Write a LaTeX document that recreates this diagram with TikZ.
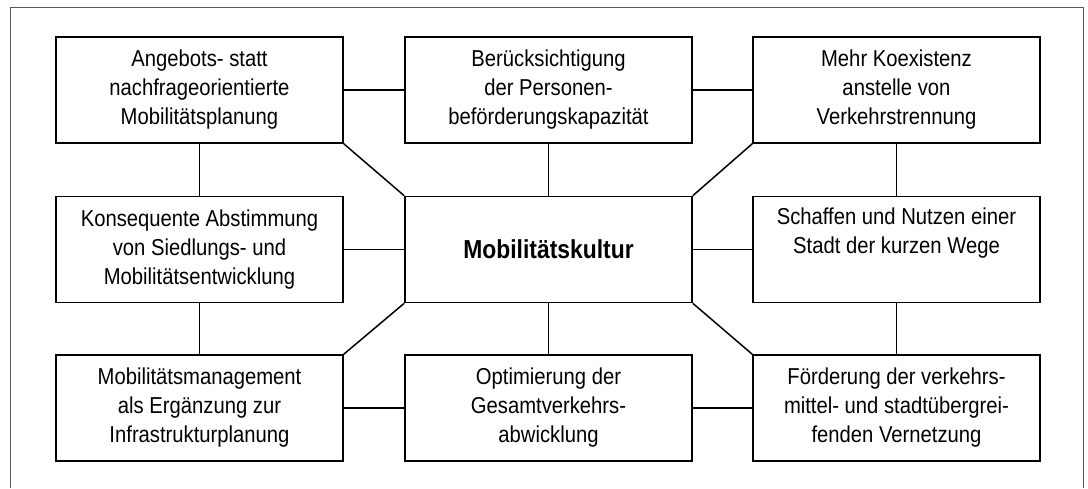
\documentclass[tikz,border=0pt]{standalone}
\usepackage{fontspec}
\setmainfont{Liberation Sans}[FakeStretch=0.88]
\usepackage{tikz}

\begin{document}
\begin{tikzpicture}[x=1pt, y=-1pt, line width=1.5pt,
	box/.style={draw, minimum width=287pt, minimum height=106pt, inner sep=0pt, align=center, font=\fontsize{23}{29}\selectfont},
	frame/.style={draw=black!65, line width=1.6pt}]
			\useasboundingbox (0,0) rectangle (1088,488);
			\draw[frame] (10.5,488) -- (10.5,7.5) -- (1083.5,7.5) -- (1083.5,488);
			% Define boxes
			\node[box] at (199.5, 90) (angebot) {Angebots- statt\\nachfrageorientierte\\Mobilitätsplanung};
			\node[box] at (548.5, 90) (personen) {Berücksichtigung\\der Personen-\\beförderungskapazität};
			\node[box] at (896.5, 90) (koexistenz) {Mehr Koexistenz\\anstelle von\\Verkehrstrennung};
			\node[box] at (199.5, 249.5) (abstimmung) {Konsequente Abstimmung\\von Siedlungs- und\\Mobilitätsentwicklung};
			\node[box, font=\fontsize{26}{30}\selectfont\bfseries] at (548.5, 249.5) (kultur) {Mobilitätskultur};
			\node[box] at (896.5, 249.5) (wege) {Schaffen und Nutzen einer\\Stadt der kurzen Wege\\ \strut};
			\node[box] at (199.5, 408) (management) {Mobilitätsmanagement\\als Ergänzung zur\\Infrastrukturplanung};
			\node[box] at (548.5, 408) (optimierung) {Optimierung der\\Gesamtverkehrs-\\abwicklung};
			\node[box] at (896.5, 408) (vernetzung) {Förderung der verkehrs-\\mittel- und stadtübergrei-\\fenden Vernetzung};
			% Draw the ring of outer boxes
			\draw (angebot) -- (personen);
			\draw (personen) -- (koexistenz);
			\draw (koexistenz) -- (wege);
			\draw (wege) -- (vernetzung);
			\draw (vernetzung) -- (optimierung);
			\draw (optimierung) -- (management);
			\draw (management) -- (abstimmung);
			\draw (abstimmung) -- (angebot);
			% Draw links to the centre
			\draw (personen) -- (kultur);
			\draw (abstimmung) -- (kultur);
			\draw (wege) -- (kultur);
			\draw (optimierung) -- (kultur);
			\draw (angebot.south east) -- (kultur.north west);
			\draw (koexistenz.south west) -- (kultur.north east);
			\draw (management.north east) -- (kultur.south west);
			\draw (vernetzung.north west) -- (kultur.south east);
		\end{tikzpicture}
\end{document}
